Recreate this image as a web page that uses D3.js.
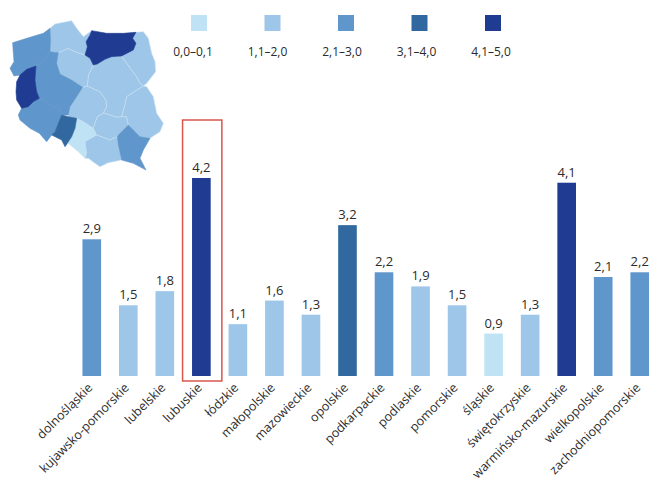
<!DOCTYPE html>
<html>
<head>
<meta charset="utf-8">
<script src="https://cdn.jsdelivr.net/npm/d3@7"></script>
<style>
    html, body { margin: 0; padding: 0; background: #fff; }
    text { font-family: "Open Sans", sans-serif; fill: #2b2b2b; }
</style>
</head>
<body>
<div id="chart-area"></div>
<script>
var categories = ["dolnośląskie", "kujawsko-pomorskie", "lubelskie", "lubuskie", "łódzkie", "małopolskie",
    "mazowieckie", "opolskie", "podkarpackie", "podlaskie", "pomorskie", "śląskie",
    "świętokrzyskie", "warmińsko-mazurskie", "wielkopolskie", "zachodniopomorskie"];
var values = [2.9, 1.5, 1.8, 4.2, 1.1, 1.6, 1.3, 3.2, 2.2, 1.9, 1.5, 0.9, 1.3, 4.1, 2.1, 2.2];

var legendLabels = ["0,0–0,1", "1,1–2,0", "2,1–3,0", "3,1–4,0", "4,1–5,0"];
var legendColors = ["#bfe3f5", "#9dc6e8", "#5f96cb", "#31689f", "#1f3c92"];
var colorBreaks = [1.05, 2.05, 3.05, 4.05];
var highlighted = "lubuskie";

// voivodeship outlines, same order as categories
var outlines = [
    [[65,325],[85,320],[100,305],[118,295],[130,300],[160,320],[175,320],[185,345],[165,395],[155,405],[140,425],[118,400],[90,385],[60,360],[55,345]],
    [[175,158],[205,145],[225,155],[255,165],[270,175],[280,195],[265,225],[262,258],[248,262],[215,240],[180,222],[170,190]],
    [[430,258],[440,260],[460,290],[470,340],[490,370],[480,395],[450,415],[420,410],[395,385],[385,375],[380,350],[365,350],[375,315],[380,290]],
    [[108,198],[105,240],[110,275],[118,295],[100,305],[85,320],[65,325],[50,300],[48,275],[50,245],[60,225],[80,208]],
    [[205,345],[210,320],[230,290],[248,262],[262,258],[300,275],[318,300],[320,320],[310,340],[292,350],[285,370],[280,385],[250,365],[230,355],[205,350]],
    [[255,425],[290,405],[330,420],[352,410],[355,435],[365,480],[325,488],[300,500],[285,490],[265,475],[255,475],[260,460]],
    [[280,195],[292,192],[315,178],[335,170],[365,168],[380,190],[395,210],[410,230],[420,250],[430,258],[380,290],[375,315],[365,350],[350,352],[315,340],[310,340],[320,320],[318,300],[300,275],[262,258],[265,225]],
    [[185,345],[205,350],[230,355],[225,385],[215,410],[195,440],[185,420],[155,405],[165,395]],
    [[385,375],[395,385],[420,410],[450,415],[430,450],[420,475],[438,510],[400,490],[365,480],[355,435],[352,410],[355,405]],
    [[408,97],[430,95],[445,115],[455,160],[465,185],[467,215],[440,250],[430,258],[420,250],[410,230],[395,210],[380,190],[365,168],[400,150],[408,130],[398,115]],
    [[150,85],[165,72],[215,62],[230,85],[250,110],[275,92],[270,105],[258,125],[262,140],[255,165],[225,155],[205,145],[175,158],[150,155],[152,120]],
    [[230,355],[250,365],[280,385],[290,405],[255,425],[260,460],[255,475],[235,455],[205,430],[195,440],[215,410],[225,385]],
    [[310,340],[315,340],[350,352],[365,350],[380,350],[385,375],[355,405],[352,410],[330,420],[290,405],[280,385],[285,370],[292,350]],
    [[275,92],[320,100],[370,100],[408,97],[398,115],[408,130],[400,150],[365,168],[335,170],[315,178],[292,192],[280,195],[270,175],[255,165],[262,140],[258,125],[270,105]],
    [[150,155],[175,158],[170,190],[180,222],[215,240],[248,262],[230,290],[210,320],[205,345],[185,345],[175,320],[160,320],[130,300],[118,295],[110,275],[105,240],[108,198],[125,190],[135,175]],
    [[38,128],[90,112],[130,100],[150,85],[152,120],[150,155],[135,175],[125,190],[108,198],[80,208],[60,225],[42,228],[30,205],[42,185],[40,160]]
];

var width = 649, height = 483;
var baseline = 376;

var svg = d3.select("#chart-area")
    .append("svg")
        .attr("width", width)
        .attr("height", height)
        .style("display", "block");

// X Scale
var x = d3.scaleBand()
    .domain(categories)
    .range([73.5, 658])
    .paddingInner(0.49)
    .paddingOuter(0.245);

// Y Scale
var y = d3.scaleLinear()
    .domain([0, 4.2])
    .range([baseline, 178]);

var color = d3.scaleThreshold()
    .domain(colorBreaks)
    .range(legendColors);

var pl = d3.formatLocale({ decimal: ",", thousands: " ", grouping: [3], currency: ["", " zł"] });
var fmt = pl.format(".1f");

// Map
var projection = d3.geoIdentity().scale(1 / 3).translate([0, 0]);
var path = d3.geoPath(projection);

var regions = categories.map(function(name, i) {
    var ring = outlines[i].concat([outlines[i][0]]);
    return { type: "Feature", properties: { name: name, value: values[i] },
        geometry: { type: "Polygon", coordinates: [ring] } };
});

// darker regions go last so their edge covers the pale border of the light ones
regions.sort(function(a, b){ return a.properties.value - b.properties.value; });

svg.append("g")
    .attr("class", "map")
    .selectAll("path")
    .data(regions)
    .enter()
    .append("path")
        .attr("d", path)
        .attr("fill", function(d){ return color(d.properties.value); })
        .attr("stroke", function(d){
            return d.properties.value < colorBreaks[1] ? "#c9e0f2" : color(d.properties.value);
        })
        .attr("stroke-width", 0.6)
        .attr("stroke-linejoin", "round");

// Legend
var legendSwatchX = d3.scalePoint().domain(legendLabels).range([199, 493]);
var legendTextX = d3.scalePoint().domain(legendLabels).range([193, 491]);

var legend = svg.append("g").attr("class", "legend");

legend.selectAll("rect")
    .data(legendLabels)
    .enter()
    .append("rect")
        .attr("x", function(d){ return legendSwatchX(d) - 8; })
        .attr("y", 15)
        .attr("width", 16)
        .attr("height", 16)
        .attr("fill", function(d, i){ return legendColors[i]; });

legend.selectAll("text")
    .data(legendLabels)
    .enter()
    .append("text")
        .attr("x", function(d){ return legendTextX(d); })
        .attr("y", 56)
        .attr("font-size", "12px")
        .attr("text-anchor", "middle")
        .text(function(d){ return d; });

// Bars
var data = categories.map(function(name, i){ return { name: name, value: values[i] }; });

svg.selectAll("rect.bar")
    .data(data)
    .enter()
    .append("rect")
        .attr("class", "bar")
        .attr("x", function(d){ return x(d.name); })
        .attr("y", function(d){ return y(d.value); })
        .attr("width", x.bandwidth())
        .attr("height", function(d){ return baseline - y(d.value); })
        .attr("fill", function(d){ return color(d.value); });

// Value labels
svg.selectAll("text.value")
    .data(data)
    .enter()
    .append("text")
        .attr("class", "value")
        .attr("x", function(d){ return x(d.name) + x.bandwidth() / 2; })
        .attr("y", function(d){ return y(d.value) - 6; })
        .attr("font-size", "13px")
        .attr("text-anchor", "middle")
        .text(function(d){ return fmt(d.value); });

// X Axis
var xAxisGroup = svg.append("g")
    .attr("class", "x axis")
    .attr("transform", "translate(0," + baseline + ")")
    .call(d3.axisBottom(x).tickSize(0));

xAxisGroup.select(".domain").remove();

xAxisGroup.selectAll("text")
    .attr("font-size", "12.5px")
    .attr("font-family", null)
    .attr("x", 2)
    .attr("y", 0)
    .attr("dy", "0")
    .attr("text-anchor", "end")
    .attr("transform", "translate(0,14) rotate(-45)");

// Red frame round the highlighted bar
var hx = x(highlighted) + x.bandwidth() / 2;
svg.append("rect")
    .attr("x", hx - 18.8)
    .attr("y", y(values[categories.indexOf(highlighted)]) - 58)
    .attr("width", 39.3)
    .attr("height", 261)
    .attr("fill", "none")
    .attr("stroke", "#d8564c")
    .attr("stroke-width", 1.5);
</script>
</body>
</html>
